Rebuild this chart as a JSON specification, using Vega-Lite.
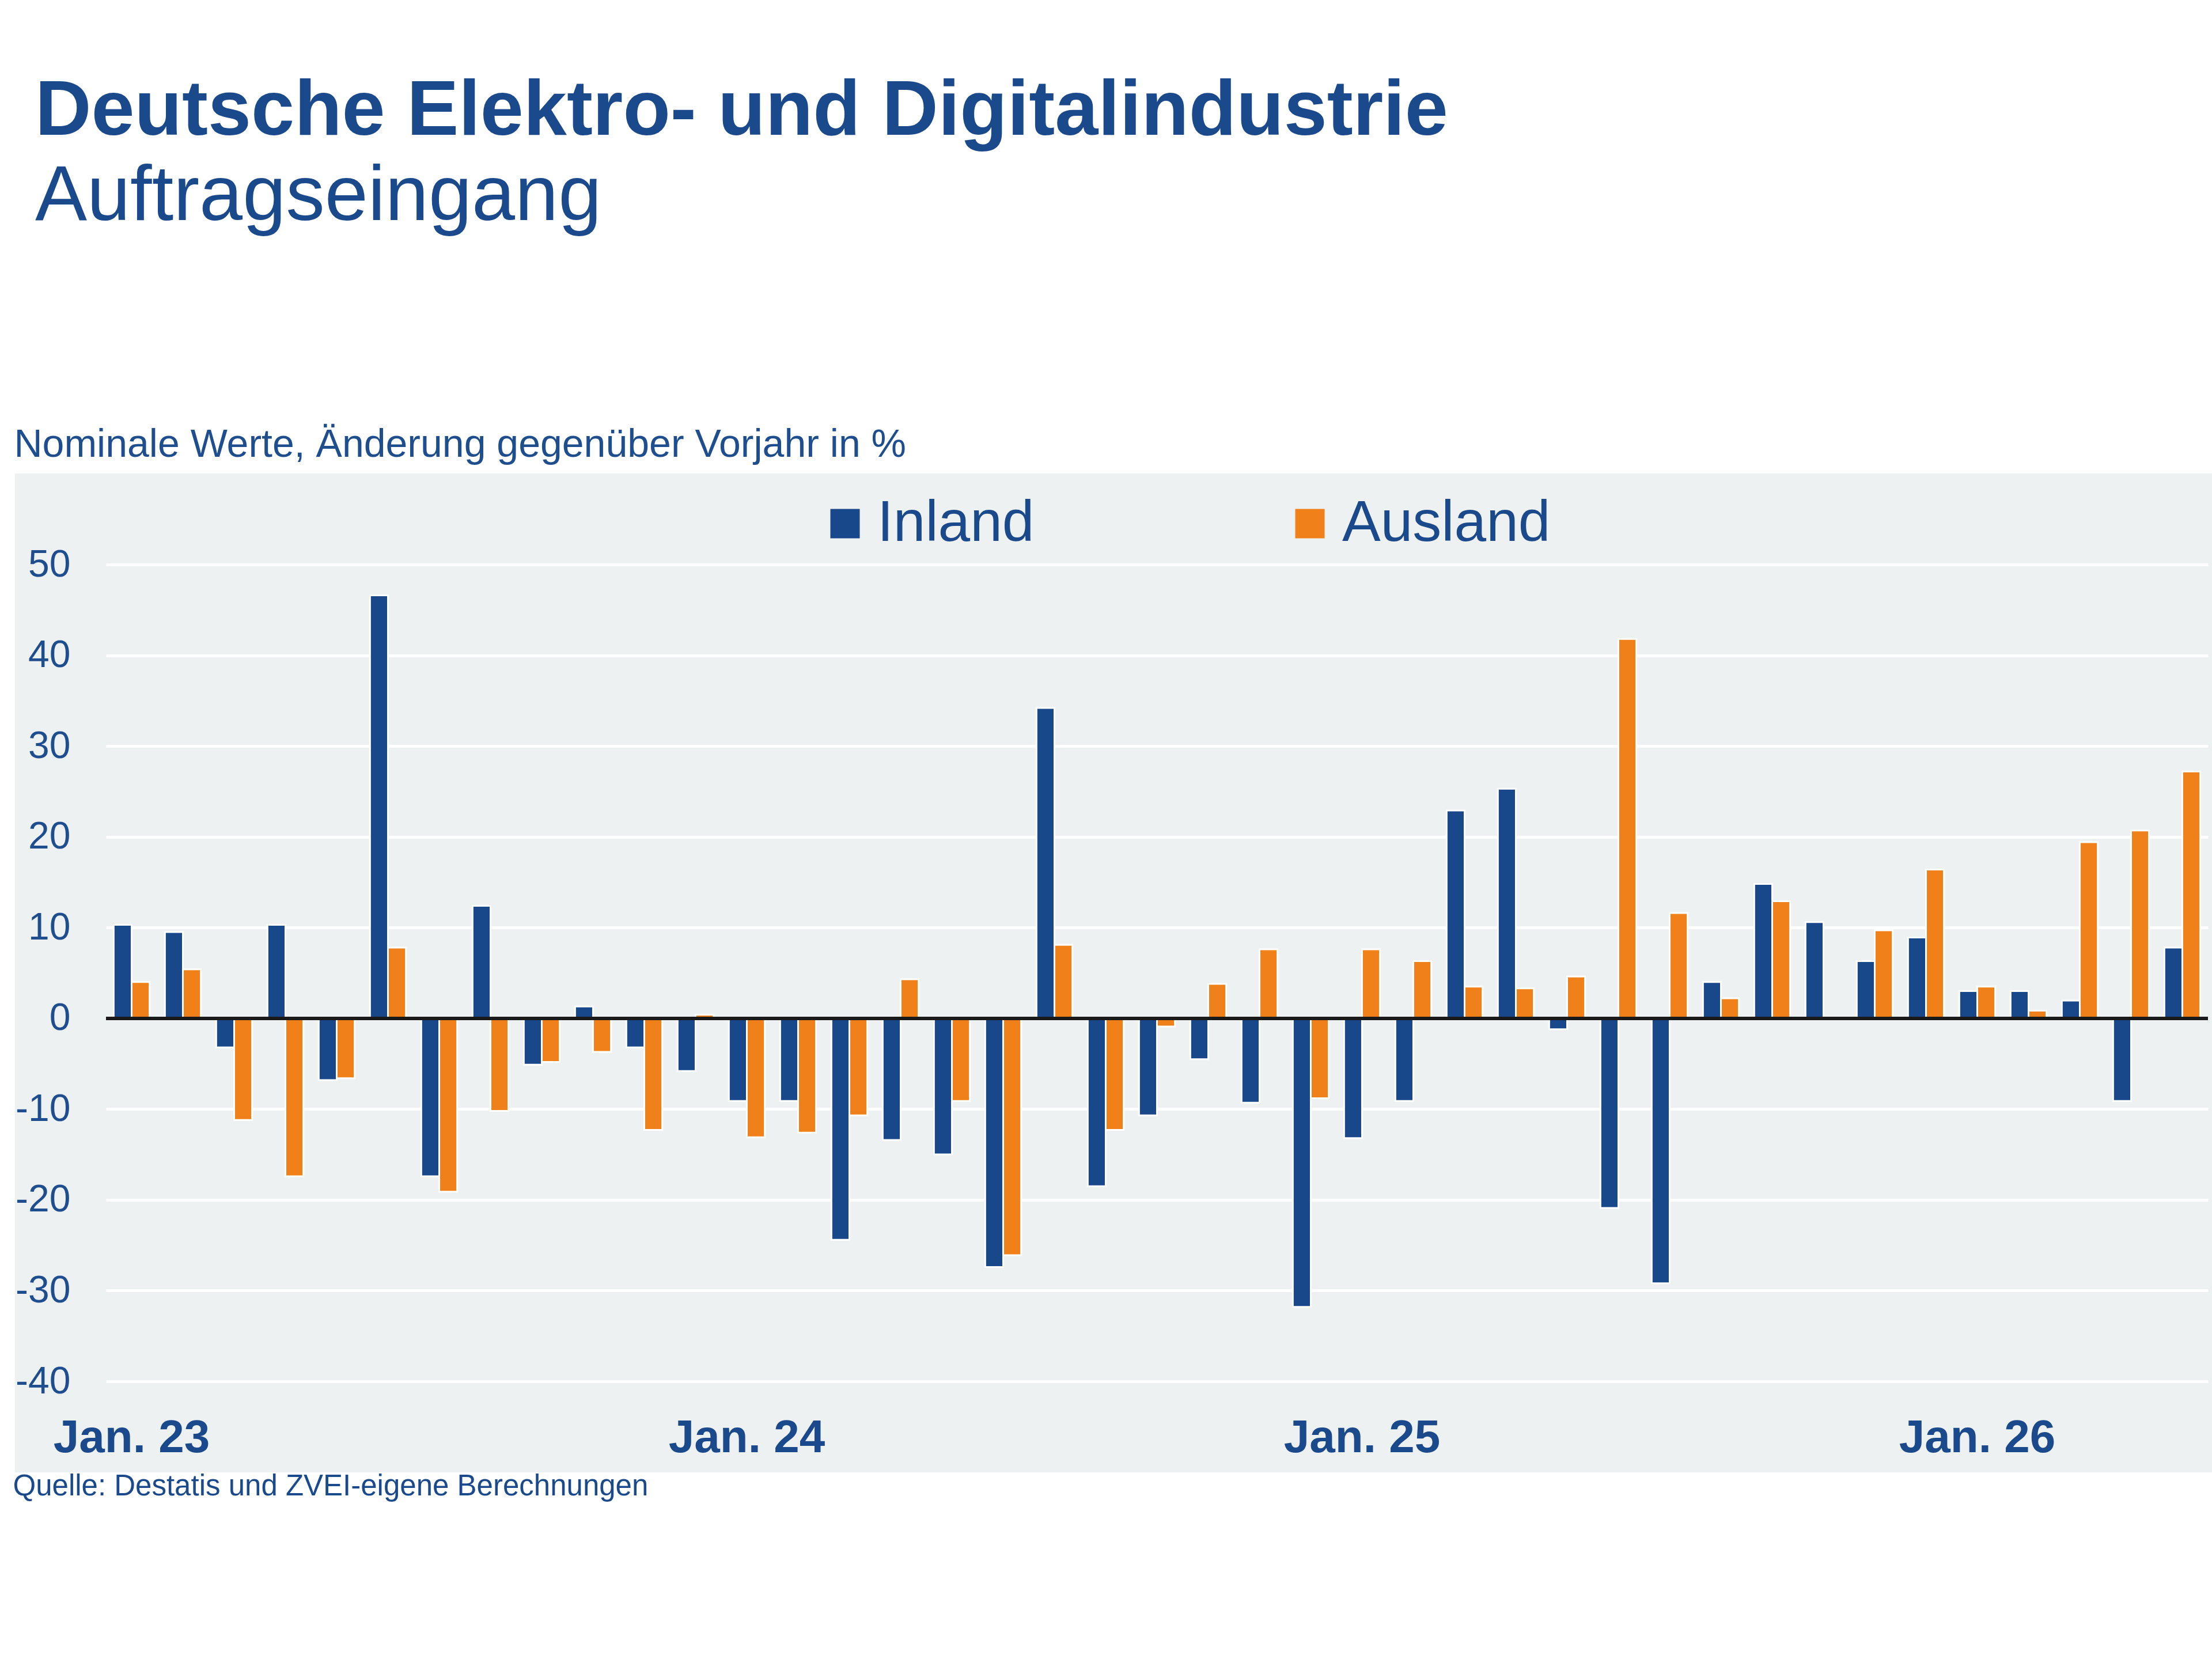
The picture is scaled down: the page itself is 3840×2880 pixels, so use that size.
{
  "$schema": "https://vega.github.io/schema/vega-lite/v6.json",
  "width": 3649,
  "height": 1418,
  "autosize": {"type": "none"},
  "padding": {"left": 184, "top": 980, "right": 7, "bottom": 482},
  "background": "white",
  "config": {
    "view": {"fill": "#eef1f2", "stroke": "#eef1f2", "strokeWidth": 316},
    "font": "Liberation Sans"
  },
  "title": {
    "text": "Deutsche Elektro- und Digitalindustrie",
    "subtitle": "Auftragseingang",
    "anchor": "start",
    "frame": "group",
    "dx": -123,
    "offset": 328,
    "font": "Liberation Sans",
    "fontSize": 135,
    "fontWeight": "bold",
    "color": "#1b4a8c",
    "subtitleFont": "Liberation Sans",
    "subtitleFontSize": 135,
    "subtitleFontWeight": "normal",
    "subtitleColor": "#1b4a8c",
    "subtitlePadding": 13
  },
  "data": {
    "values": [
      {"month": "2023-01", "series": "Inland", "value": 10.3}, {"month": "2023-01", "series": "Ausland", "value": 4.0},
      {"month": "2023-02", "series": "Inland", "value": 9.5}, {"month": "2023-02", "series": "Ausland", "value": 5.4},
      {"month": "2023-03", "series": "Inland", "value": -3.2}, {"month": "2023-03", "series": "Ausland", "value": -11.2},
      {"month": "2023-04", "series": "Inland", "value": 10.3}, {"month": "2023-04", "series": "Ausland", "value": -17.4},
      {"month": "2023-05", "series": "Inland", "value": -6.8}, {"month": "2023-05", "series": "Ausland", "value": -6.6},
      {"month": "2023-06", "series": "Inland", "value": 46.6}, {"month": "2023-06", "series": "Ausland", "value": 7.8},
      {"month": "2023-07", "series": "Inland", "value": -17.4}, {"month": "2023-07", "series": "Ausland", "value": -19.1},
      {"month": "2023-08", "series": "Inland", "value": 12.4}, {"month": "2023-08", "series": "Ausland", "value": -10.2},
      {"month": "2023-09", "series": "Inland", "value": -5.1}, {"month": "2023-09", "series": "Ausland", "value": -4.8},
      {"month": "2023-10", "series": "Inland", "value": 1.3}, {"month": "2023-10", "series": "Ausland", "value": -3.7},
      {"month": "2023-11", "series": "Inland", "value": -3.2}, {"month": "2023-11", "series": "Ausland", "value": -12.3},
      {"month": "2023-12", "series": "Inland", "value": -5.8}, {"month": "2023-12", "series": "Ausland", "value": 0.4},
      {"month": "2024-01", "series": "Inland", "value": -9.1}, {"month": "2024-01", "series": "Ausland", "value": -13.1},
      {"month": "2024-02", "series": "Inland", "value": -9.1}, {"month": "2024-02", "series": "Ausland", "value": -12.6},
      {"month": "2024-03", "series": "Inland", "value": -24.4}, {"month": "2024-03", "series": "Ausland", "value": -10.7},
      {"month": "2024-04", "series": "Inland", "value": -13.4}, {"month": "2024-04", "series": "Ausland", "value": 4.3},
      {"month": "2024-05", "series": "Inland", "value": -15.0}, {"month": "2024-05", "series": "Ausland", "value": -9.1},
      {"month": "2024-06", "series": "Inland", "value": -27.4}, {"month": "2024-06", "series": "Ausland", "value": -26.1},
      {"month": "2024-07", "series": "Inland", "value": 34.2}, {"month": "2024-07", "series": "Ausland", "value": 8.1},
      {"month": "2024-08", "series": "Inland", "value": -18.5}, {"month": "2024-08", "series": "Ausland", "value": -12.3},
      {"month": "2024-09", "series": "Inland", "value": -10.7}, {"month": "2024-09", "series": "Ausland", "value": -0.9},
      {"month": "2024-10", "series": "Inland", "value": -4.5}, {"month": "2024-10", "series": "Ausland", "value": 3.8},
      {"month": "2024-11", "series": "Inland", "value": -9.3}, {"month": "2024-11", "series": "Ausland", "value": 7.6},
      {"month": "2024-12", "series": "Inland", "value": -31.8}, {"month": "2024-12", "series": "Ausland", "value": -8.8},
      {"month": "2025-01", "series": "Inland", "value": -13.2}, {"month": "2025-01", "series": "Ausland", "value": 7.6},
      {"month": "2025-02", "series": "Inland", "value": -9.1}, {"month": "2025-02", "series": "Ausland", "value": 6.3},
      {"month": "2025-03", "series": "Inland", "value": 22.9}, {"month": "2025-03", "series": "Ausland", "value": 3.5},
      {"month": "2025-04", "series": "Inland", "value": 25.3}, {"month": "2025-04", "series": "Ausland", "value": 3.3},
      {"month": "2025-05", "series": "Inland", "value": -1.2}, {"month": "2025-05", "series": "Ausland", "value": 4.6},
      {"month": "2025-06", "series": "Inland", "value": -20.9}, {"month": "2025-06", "series": "Ausland", "value": 41.8},
      {"month": "2025-07", "series": "Inland", "value": -29.2}, {"month": "2025-07", "series": "Ausland", "value": 11.6},
      {"month": "2025-08", "series": "Inland", "value": 4.0}, {"month": "2025-08", "series": "Ausland", "value": 2.2},
      {"month": "2025-09", "series": "Inland", "value": 14.8}, {"month": "2025-09", "series": "Ausland", "value": 12.9},
      {"month": "2025-10", "series": "Inland", "value": 10.6}, {"month": "2025-10", "series": "Ausland", "value": 0},
      {"month": "2025-11", "series": "Inland", "value": 6.3}, {"month": "2025-11", "series": "Ausland", "value": 9.7},
      {"month": "2025-12", "series": "Inland", "value": 8.9}, {"month": "2025-12", "series": "Ausland", "value": 16.4},
      {"month": "2026-01", "series": "Inland", "value": 3.0}, {"month": "2026-01", "series": "Ausland", "value": 3.5},
      {"month": "2026-02", "series": "Inland", "value": 3.0}, {"month": "2026-02", "series": "Ausland", "value": 0.85},
      {"month": "2026-03", "series": "Inland", "value": 1.95}, {"month": "2026-03", "series": "Ausland", "value": 19.4},
      {"month": "2026-04", "series": "Inland", "value": -9.1}, {"month": "2026-04", "series": "Ausland", "value": 20.7},
      {"month": "2026-05", "series": "Inland", "value": 7.8}, {"month": "2026-05", "series": "Ausland", "value": 27.2}
    ]
  },
  "layer": [
    {
      "mark": {"type": "bar", "stroke": "white", "strokeWidth": 3},
      "encoding": {
        "x": {
          "field": "month",
          "type": "ordinal",
          "scale": {"paddingInner": 0.3, "paddingOuter": 0.15},
          "axis": {
            "title": "Quelle: Destatis und ZVEI-eigene Berechnungen",
            "titleX": -162,
            "titleY": 197,
            "titleAlign": "left",
            "titleAnchor": "start",
            "titleBaseline": "alphabetic",
            "titleFont": "Liberation Sans",
            "titleFontSize": 51,
            "titleFontWeight": "normal",
            "titleColor": "#1b4a8c",
            "labelExpr": "substring(datum.value, 5, 7) == '01' ? 'Jan. ' + substring(datum.value, 2, 4) : ''",
            "labelAngle": 0,
            "labelFont": "Liberation Sans",
            "labelFontSize": 80,
            "labelFontWeight": "bold",
            "labelColor": "#1b4a8c",
            "labelPadding": 59,
            "labelLimit": 1000,
            "labelOverlap": false,
            "labelBound": false,
            "ticks": false,
            "tickSize": 0,
            "domain": false,
            "grid": false
          }
        },
        "xOffset": {
          "field": "series",
          "type": "nominal",
          "sort": ["Inland", "Ausland"],
          "scale": {"paddingInner": 0, "paddingOuter": 0}
        },
        "y": {
          "field": "value",
          "type": "quantitative",
          "scale": {"domain": [-40, 50], "nice": false, "zero": true},
          "axis": {
            "title": "Nominale Werte, Änderung gegenüber Vorjahr in %",
            "titleAngle": 0,
            "titleX": -160,
            "titleY": -188,
            "titleAlign": "left",
            "titleAnchor": "start",
            "titleBaseline": "alphabetic",
            "titleFont": "Liberation Sans",
            "titleFontSize": 68,
            "titleFontWeight": "normal",
            "titleColor": "#1f4e8f",
            "values": [-40, -30, -20, -10, 0, 10, 20, 30, 40, 50],
            "labelExpr": "'' + datum.value",
            "labelFont": "Liberation Sans",
            "labelFontSize": 66,
            "labelColor": "#1f4e8f",
            "labelPadding": 62,
            "ticks": false,
            "tickSize": 0,
            "domain": false,
            "grid": true,
            "gridColor": "white",
            "gridWidth": 5,
            "gridOpacity": 1
          }
        },
        "color": {
          "field": "series",
          "type": "nominal",
          "sort": ["Inland", "Ausland"],
          "scale": {"domain": ["Inland", "Ausland"], "range": ["#18488a", "#f0801a"]},
          "legend": {
            "orient": "none",
            "legendX": 1233,
            "legendY": -121,
            "direction": "horizontal",
            "title": null,
            "symbolType": "square",
            "symbolSize": 2601,
            "symbolStrokeWidth": 0,
            "symbolOpacity": 1,
            "labelFont": "Liberation Sans",
            "labelFontSize": 100,
            "labelColor": "#1b4a8c",
            "labelOffset": 6,
            "labelLimit": 2000,
            "columnPadding": 428,
            "padding": 0
          }
        }
      }
    },
    {
      "mark": {"type": "rule", "color": "#1a1a1a", "strokeWidth": 5},
      "encoding": {"y": {"datum": 0}}
    }
  ]
}
